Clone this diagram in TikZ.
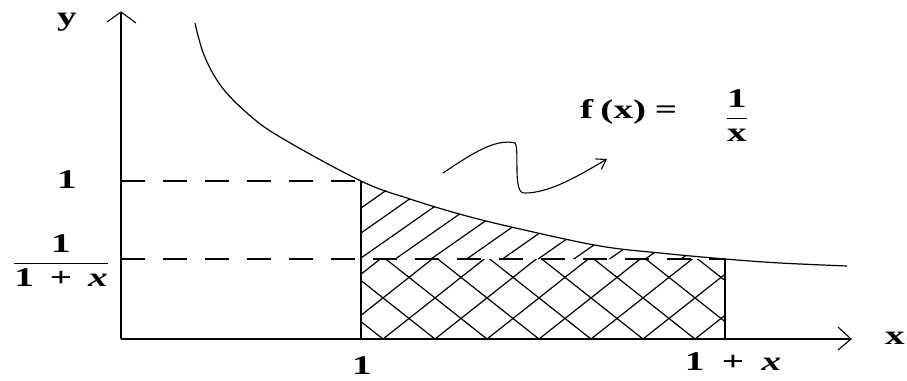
\documentclass[tikz,border=0pt]{standalone}
\usepackage{amsmath}
\usepackage{fontspec}
\setmainfont{Liberation Serif}
\usetikzlibrary{arrows.meta}
\newcommand{\wide}[1]{\scalebox{1.45}[1]{#1}}
\begin{document}
\begin{tikzpicture}[x=1pt,y=-1pt,
  axis/.style={line width=1.6pt},
  curve/.style={line width=1.2pt},
  dashline/.style={line width=1.1pt,dash pattern=on 24pt off 18pt},
  hatch/.style={line width=1.2pt},
  lbl/.style={inner sep=0pt,font=\fontsize{27}{31}\selectfont\bfseries}]
\useasboundingbox (0,0) rectangle (907,380);
% coordinates
\coordinate (O) at (121,339);
\coordinate (ytop) at (121,12);
\coordinate (xend) at (851,339);
\coordinate (A) at (361,339);
\coordinate (Atop) at (361,181);
\coordinate (B) at (725,339);
\coordinate (Btop) at (725,259);
\coordinate (y1) at (121,181);
\coordinate (yq) at (121,259);
% hatching upper part
\begin{scope}
  \clip (361,259) -- (361,181) -- plot[smooth,tension=0.6] coordinates {(361,181) (410,199) (463,215) (520,229) (600,246) (660,253) (725,259)} -- cycle;
  \foreach \k in {-14,...,4}{
    \draw[hatch] (361,{258-25*\k}) -- (725,{258-25*\k-0.7*364});
  }
\end{scope}
% crosshatch lower part
\begin{scope}
  \clip (361,259) rectangle (725,339);
  \foreach \k in {-3,...,9}{
    \draw[hatch] ({383+52*\k},339) -- ({383+52*\k+130},{339-0.79*130});
    \draw[hatch] ({383+52*\k},339) -- ({383+52*\k-130},{339-0.79*130});
  }
\end{scope}
% dashed lines
\draw[dashline] (y1) -- (Atop);
\draw[dashline] (yq) -- (Btop);
% verticals
\draw[axis] (A) -- (Atop);
\draw[axis] (B) -- (Btop);
% axes
\draw[axis] (O) -- (ytop);
\draw[line width=1.1pt] (107,22) -- (ytop) -- (136,23);
\draw[axis] (O) -- (xend);
\draw[line width=1.1pt] (838,327) -- (xend) -- (838,350);
% curve
\draw[curve] plot[smooth,tension=0.6] coordinates {(195,23) (204,55) (221,86) (247,113) (280,137) (361,181) (410,199) (463,215) (520,229) (600,246) (660,253) (725,259) (780,263) (847,266)};
% squiggle arrow
\coordinate (s0) at (443,173);
\coordinate (s1) at (515,143);
\coordinate (s2) at (525,193);
\coordinate (s3) at (607,159);
\draw[line width=1.1pt,-{Straight Barb[length=9pt,width=12pt,line width=1.1pt]}]
  (s0) .. controls (470,155) and (495,138) .. (s1)
  .. controls (520,150) and (512,195) .. (s2)
  .. controls (550,193) and (580,175) .. (s3);
% labels
\node[lbl] (ly) at (67,22) {\wide{y}};
\node[lbl] (lx) at (895,338) {\wide{x}};
\node[lbl] (l1) at (67,180) {\wide{1}};
\node[lbl] (lfrac) at (61,261) {\wide{$\dfrac{\text{1}}{\text{1\hspace{11pt}+\hspace{11pt}\textit{x}}}$}};
\node[lbl] (lA) at (362,366) {\wide{1}};
\node[lbl] (lB) at (733,362) {\wide{1\hspace{12pt}+\hspace{12pt}\textit{x}}};
\node[lbl,anchor=west] (lf) at (580,112) {\wide{f\hspace{5pt}(x)\hspace{6pt}=}};
\node[lbl] (lfr) at (737,116) {\wide{$\dfrac{\text{1}}{\text{x}}$}};
\end{tikzpicture}
\end{document}
